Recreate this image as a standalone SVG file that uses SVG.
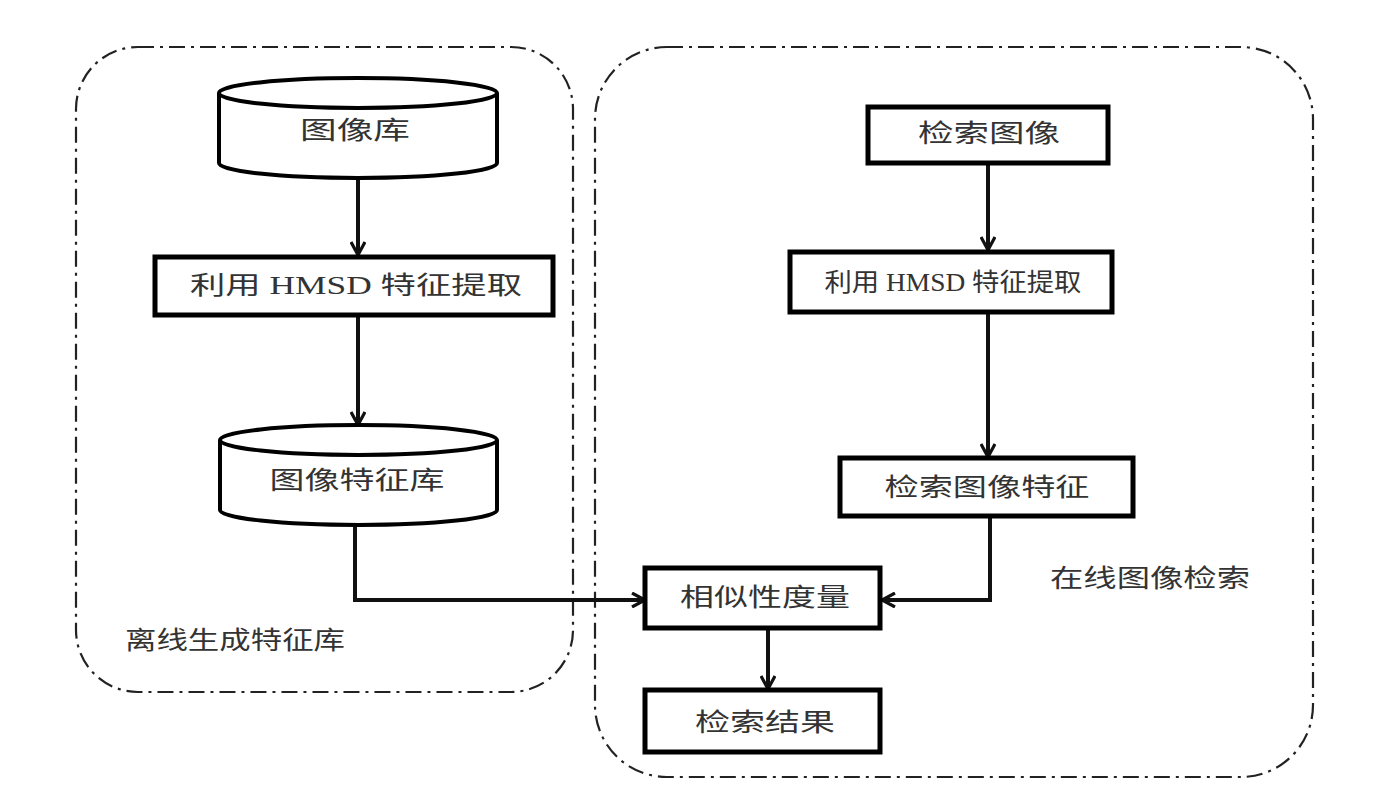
<svg xmlns="http://www.w3.org/2000/svg" width="1400" height="800" viewBox="0 0 1400 800">
<style>
.box{fill:#fff;stroke:#000;stroke-width:5}
.cyl{fill:#fff;stroke:#000;stroke-width:4}
.grp{fill:none;stroke:#222;stroke-width:2.2;stroke-dasharray:16 6 3 6}
.t{font-family:"Liberation Serif","Noto Sans CJK SC",serif;font-size:25px;fill:#333;text-anchor:middle;dominant-baseline:central}
.e{fill:none;stroke:#111;stroke-width:4}
</style>
<defs>
<marker id="arr" viewBox="0 0 16 16" refX="15" refY="8" markerWidth="16" markerHeight="16" markerUnits="userSpaceOnUse" orient="auto">
<path d="M2,1 L15,8 L2,15" fill="none" stroke="#111" stroke-width="3.2"/>
</marker>
</defs>
<rect fill="#fff" width="1400" height="800"/>
<g id="group-offline">
<rect class="grp" x="76" y="47" width="497" height="645" rx="62"/>
<text class="t" x="235" y="640" textLength="220" lengthAdjust="spacingAndGlyphs">离线生成特征库</text>
</g>
<g id="group-online">
<rect class="grp" x="595" y="47" width="718" height="730" rx="72"/>
<text class="t" x="1150" y="578" textLength="200" lengthAdjust="spacingAndGlyphs">在线图像检索</text>
</g>
<g id="connectors">
<path class="e" d="M358,178 V255" marker-end="url(#arr)"/>
<path class="e" d="M358,315 V425" marker-end="url(#arr)"/>
<path class="e" d="M355,527 V600 H645" marker-end="url(#arr)"/>
<path class="e" d="M988,163 V250" marker-end="url(#arr)"/>
<path class="e" d="M988,312 V457" marker-end="url(#arr)"/>
<path class="e" d="M990,516 V600 H882" marker-end="url(#arr)"/>
<path class="e" d="M768,628 V689" marker-end="url(#arr)"/>
</g>
<g id="node-image-db">
<path class="cyl" d="M219,93 V163 A139,15 0 0 0 497,163 V93"/>
<ellipse class="cyl" cx="358" cy="93" rx="139" ry="15"/>
<text class="t" x="355" y="130" textLength="110" lengthAdjust="spacingAndGlyphs">图像库</text>
</g>
<g id="node-extract-left">
<rect class="box" x="155" y="257" width="398" height="58"/>
<text class="t" x="356" y="285" textLength="332" lengthAdjust="spacingAndGlyphs">利用 HMSD 特征提取</text>
</g>
<g id="node-feature-db">
<path class="cyl" d="M220,440 V510 A138.5,15 0 0 0 497,510 V440"/>
<ellipse class="cyl" cx="358.5" cy="440" rx="138.5" ry="15"/>
<text class="t" x="357" y="480" textLength="175" lengthAdjust="spacingAndGlyphs">图像特征库</text>
</g>
<g id="node-query-image">
<rect class="box" x="868" y="107" width="240" height="56"/>
<text class="t" x="989" y="133" textLength="142" lengthAdjust="spacingAndGlyphs">检索图像</text>
</g>
<g id="node-extract-right">
<rect class="box" x="790" y="252" width="322" height="60"/>
<text class="t" x="953" y="282" textLength="257" lengthAdjust="spacingAndGlyphs">利用 HMSD 特征提取</text>
</g>
<g id="node-query-feature">
<rect class="box" x="840" y="458" width="293" height="58"/>
<text class="t" x="987" y="487" textLength="205" lengthAdjust="spacingAndGlyphs">检索图像特征</text>
</g>
<g id="node-similarity">
<rect class="box" x="645" y="568" width="235" height="60"/>
<text class="t" x="765" y="597" textLength="170" lengthAdjust="spacingAndGlyphs">相似性度量</text>
</g>
<g id="node-result">
<rect class="box" x="645" y="690" width="235" height="62"/>
<text class="t" x="765" y="722" textLength="140" lengthAdjust="spacingAndGlyphs">检索结果</text>
</g>
</svg>
